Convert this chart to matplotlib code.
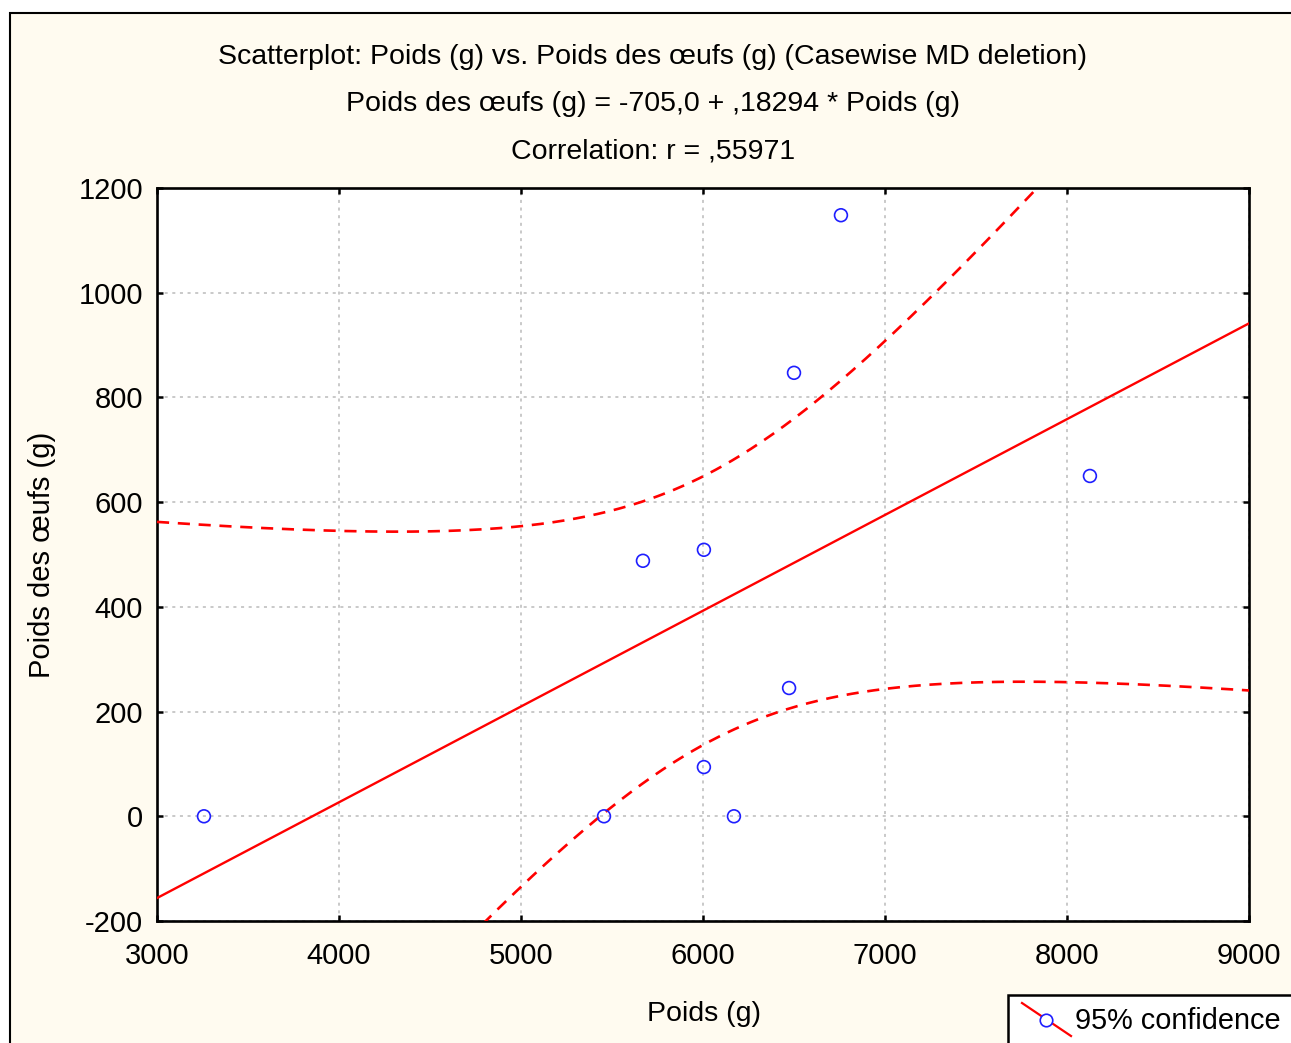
import numpy as np
import matplotlib.pyplot as plt
from matplotlib.patches import Rectangle
from matplotlib.lines import Line2D

plt.rcParams['font.family'] = ['Liberation Sans', 'DejaVu Sans']
plt.rcParams['axes.unicode_minus'] = False

# data
poids = [3258, 5456, 5670, 6005, 6005, 6170, 6473, 6500, 6758, 8126]
oeufs = [0, 0, 488, 509, 94, 0, 245, 847, 1148, 650]
intercept = -705.0
slope = 0.18294

x_ticks = [3000, 4000, 5000, 6000, 7000, 8000, 9000]
y_ticks = [-200, 0, 200, 400, 600, 800, 1000, 1200]

W, H = 1291, 1043
fig = plt.figure(figsize=(W / 100, H / 100), dpi=100)
fig.patch.set_facecolor('white')

# cream frame
fig.patches.append(Rectangle((10 / W, -0.1), 1.2, (H - 13) / H + 0.1,
                             transform=fig.transFigure, fc='#FFFBF0',
                             ec='black', lw=1.5, zorder=-10))

ax = fig.add_axes([157 / W, 1 - 921 / H, (1249 - 157) / W, (921 - 188) / H])
ax.set_facecolor('white')

# regression line + 95% confidence band
x = np.array(poids, dtype=float)
y = np.array(oeufs, dtype=float)
n = len(x)
xs = np.linspace(3000, 9000, 400)
fit = intercept + slope * xs
resid = y - (intercept + slope * x)
s = np.sqrt(np.sum(resid ** 2) / (n - 2))
sxx = np.sum((x - x.mean()) ** 2)
t = 2.306  # t(0.975, 8)
half = t * s * np.sqrt(1 / n + (xs - x.mean()) ** 2 / sxx)

ax.plot(xs, fit, color='red', lw=1.7, zorder=3)
ax.plot(xs, fit + half, color='red', lw=1.9, ls=(0, (4.6, 3.3)), zorder=3)
ax.plot(xs, fit - half, color='red', lw=1.9, ls=(0, (4.6, 3.3)), zorder=3)
ax.scatter(poids, oeufs, s=85, facecolors='none', edgecolors='#1E1EFF',
           linewidths=1.2, zorder=4)

ax.set_xlim(3000, 9000)
ax.set_ylim(-200, 1200)
ax.set_xticks(x_ticks)
ax.set_yticks(y_ticks)
ax.grid(True, color='#BBBBBB', lw=1.1, ls=(0, (2, 3)))
ax.tick_params(direction='in', length=4, width=1.8, top=True, right=True,
               labelsize=21)
ax.tick_params(axis='x', pad=15)
ax.tick_params(axis='y', pad=10)
for sp in ax.spines.values():
    sp.set_linewidth(1.9)

fig.text(704 / W, 1 - 1014 / H, 'Poids (g)', fontsize=20.5, ha='center', va='center')
fig.text(42 / W, 1 - 555 / H, 'Poids des œufs (g)', fontsize=21, ha='center',
         va='center', rotation=90)

fig.text(653 / W, 1 - 57 / H,
         'Scatterplot: Poids (g) vs. Poids des œufs (g) (Casewise MD deletion)',
         fontsize=20.5, ha='center', va='center')
fig.text(653 / W, 1 - 104 / H, 'Poids des œufs (g) = -705,0 + ,18294 * Poids (g)',
         fontsize=20.5, ha='center', va='center')
fig.text(653 / W, 1 - 151 / H, 'Correlation: r = ,55971',
         fontsize=20.5, ha='center', va='center')

# legend box (cut off by figure edge)
fig.patches.append(Rectangle((1008 / W, -0.1), 0.5, (H - 995) / H + 0.1,
                             transform=fig.transFigure, fc='white',
                             ec='black', lw=1.8, zorder=1))
fig.lines.append(Line2D([1022 / W, 1071 / W], [1 - 1003 / H, 1 - 1036 / H],
                        transform=fig.transFigure, color='red', lw=1.6, zorder=2))
fig.lines.append(Line2D([1046 / W], [1 - 1020 / H], transform=fig.transFigure,
                        marker='o', ms=9, mfc='white', mec='#1E1EFF', mew=1.2,
                        zorder=3))
fig.text(1075 / W, 1 - 1021 / H, '95% confidence', fontsize=20.8, ha='left',
         va='center')

fig.savefig('out.png', dpi=100)
